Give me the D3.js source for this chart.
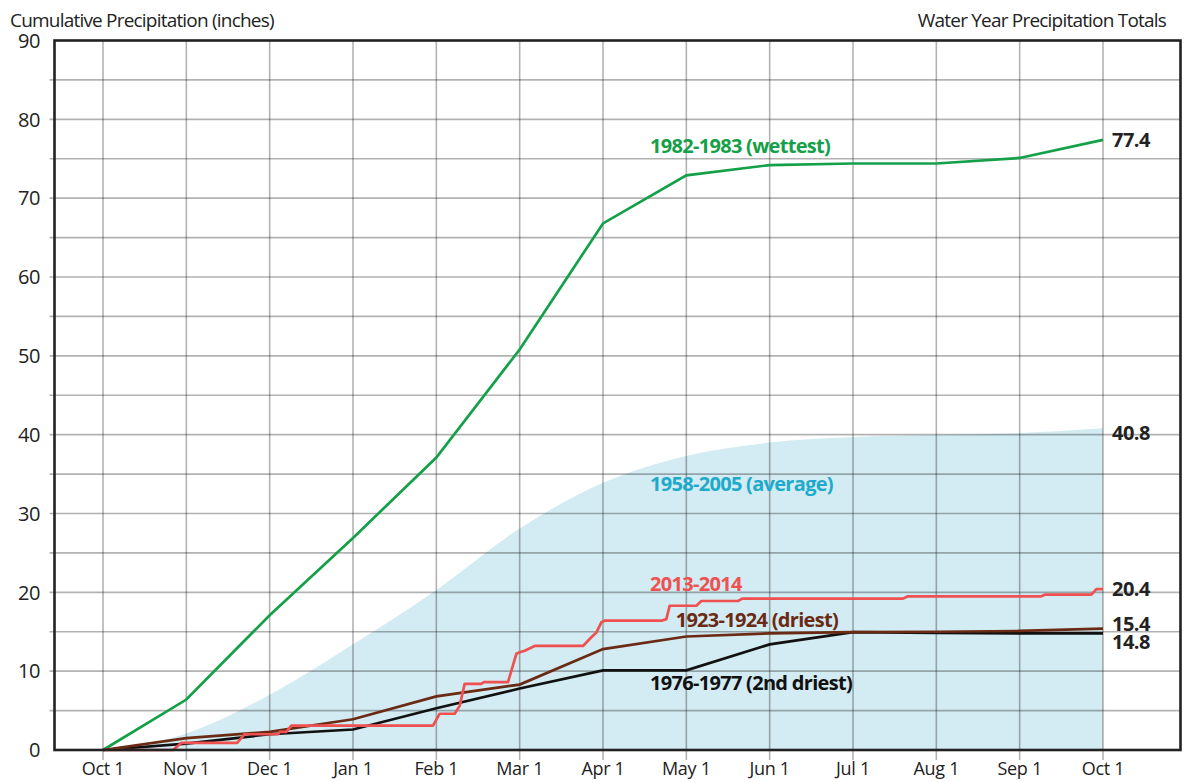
<!DOCTYPE html>
<html>
<head>
<meta charset="utf-8">
<script src="https://cdn.jsdelivr.net/npm/d3@7"></script>
<style>
  body { margin: 0; background: #fff; }
  svg text { font-family: "Open Sans", "Noto Sans", sans-serif; }
</style>
</head>
<body>
<div id="chart"></div>
<script>
// month positions: 0 = Oct 1 ... 12 = Oct 1 of following year
const monthLabels = ["Oct 1", "Nov 1", "Dec 1", "Jan 1", "Feb 1", "Mar 1", "Apr 1",
                     "May 1", "Jun 1", "Jul 1", "Aug 1", "Sep 1", "Oct 1"];
const yTicks = [0, 10, 20, 30, 40, 50, 60, 70, 80, 90];

// monthly cumulative totals (inches), one value per month label
const wettest1983 = [0, 6.4, 17.1, 26.9, 37.1, 50.8, 66.8, 72.9, 74.2, 74.4, 74.4, 75.1, 77.4];
const average1958to2005 = [0, 2.1, 7.0, 13.4, 20.3, 28.1, 33.9, 37.3, 39.0, 39.7, 40.0, 40.2, 40.8];
const driest1924 = [0, 1.5, 2.3, 3.9, 6.8, 8.3, 12.8, 14.4, 14.8, 14.95, 15.0, 15.1, 15.4];
const secondDriest1977 = [0, 0.8, 2.0, 2.6, 5.3, 7.8, 10.1, 10.1, 13.4, 14.95, 14.85, 14.8, 14.8];

// 2013-2014 daily-ish record as [month position, inches]
const wy2014 = [
  [0, 0], [0.84, 0], [0.94, 0.9], [1.61, 0.9], [1.70, 2.0], [2.10, 2.0], [2.12, 2.3],
  [2.20, 2.3], [2.26, 3.1], [3.96, 3.1], [4.04, 4.6], [4.22, 4.6], [4.28, 5.6],
  [4.34, 8.4], [4.54, 8.4], [4.57, 8.6], [4.86, 8.6], [4.96, 12.2], [5.00, 12.4],
  [5.06, 12.6], [5.18, 13.2], [5.76, 13.2], [5.86, 14.3], [5.92, 14.9], [5.98, 16.2],
  [6.02, 16.4], [6.70, 16.4], [6.76, 16.6], [6.80, 18.3], [7.12, 18.3], [7.18, 18.9],
  [7.62, 18.9], [7.67, 19.2], [9.60, 19.2], [9.66, 19.5], [11.26, 19.5], [11.30, 19.7],
  [11.86, 19.7], [11.92, 20.4], [12, 20.4]
];

const seriesNames = ["1982-1983 (wettest)", "1958-2005 (average)", "2013-2014",
                     "1923-1924 (driest)", "1976-1977 (2nd driest)"];
const endTotals = ["77.4", "40.8", "20.4", "15.4", "14.8"];

const width = 1185;
const height = 782;
const frame = { left: 54.5, right: 1180.5, top: 40.5, bottom: 750 };

const x = d3.scaleLinear().domain([0, 12]).range([103, 1103]);
const y = d3.scaleLinear().domain([0, 90]).range([frame.bottom, frame.top]);

const svg = d3.select("#chart")
  .append("svg")
  .attr("width", width)
  .attr("height", height);

// average as a filled area
const area = d3.area()
  .x((d, i) => x(i))
  .y0(y(0))
  .y1(d => y(d))
  .curve(d3.curveMonotoneX);

svg.append("path")
  .datum(average1958to2005)
  .attr("fill", "#d3ebf2")
  .attr("d", area);

// grid (drawn semi transparent so it shows darker over the fill)
const grid = svg.append("g")
  .attr("stroke", "rgba(0,0,0,0.3)")
  .attr("stroke-width", 1.6);

grid.selectAll(".hgrid")
  .data(d3.range(5, 90, 5))
  .enter()
  .append("line")
  .attr("x1", frame.left - 5)
  .attr("x2", frame.right)
  .attr("y1", d => y(d))
  .attr("y2", d => y(d));

grid.selectAll(".vgrid")
  .data(d3.range(0, 13))
  .enter()
  .append("line")
  .attr("x1", d => x(d))
  .attr("x2", d => x(d))
  .attr("y1", frame.top)
  .attr("y2", frame.bottom + 10);

// tick labels
svg.append("g")
  .selectAll("text")
  .data(yTicks)
  .enter()
  .append("text")
  .attr("x", 40)
  .attr("y", d => y(d))
  .attr("dy", "0.36em")
  .attr("text-anchor", "end")
  .attr("font-size", 20)
  .attr("letter-spacing", -0.4)
  .attr("fill", "#222")
  .text(d => d);

svg.append("g")
  .selectAll("text")
  .data(monthLabels)
  .enter()
  .append("text")
  .attr("x", (d, i) => x(i))
  .attr("y", 775)
  .attr("text-anchor", "middle")
  .attr("font-size", 18)
  .attr("letter-spacing", -0.3)
  .attr("fill", "#222")
  .text(d => d);

// lines
const line = d3.line()
  .x((d, i) => x(i))
  .y(d => y(d));

svg.append("path")
  .datum(wettest1983)
  .attr("fill", "none")
  .attr("stroke", "#14a048")
  .attr("stroke-width", 2.7)
  .attr("d", line);

svg.append("path")
  .datum(secondDriest1977)
  .attr("fill", "none")
  .attr("stroke", "#111")
  .attr("stroke-width", 2.7)
  .attr("d", line);

svg.append("path")
  .datum(driest1924)
  .attr("fill", "none")
  .attr("stroke", "#6a2a14")
  .attr("stroke-width", 2.7)
  .attr("d", line);

svg.append("path")
  .datum(wy2014)
  .attr("fill", "none")
  .attr("stroke", "#ef5050")
  .attr("stroke-width", 2.7)
  .attr("stroke-linejoin", "round")
  .attr("d", d3.line().x(d => x(d[0])).y(d => y(d[1])));

// frame
svg.append("rect")
  .attr("x", frame.left)
  .attr("y", frame.top)
  .attr("width", frame.right - frame.left)
  .attr("height", frame.bottom - frame.top)
  .attr("fill", "none")
  .attr("stroke", "#222")
  .attr("stroke-width", 2.6);

// series labels
const labelPos = [
  { x: 650, y: 153, anchor: "start", color: "#14a048" },
  { x: 650, y: 491, anchor: "start", color: "#1eaacb" },
  { x: 650, y: 591, anchor: "start", color: "#ef5050" },
  { x: 838, y: 627, anchor: "end", color: "#6a2a14" },
  { x: 650, y: 690, anchor: "start", color: "#111" }
];

svg.append("g")
  .selectAll("text")
  .data(seriesNames)
  .enter()
  .append("text")
  .attr("x", (d, i) => labelPos[i].x)
  .attr("y", (d, i) => labelPos[i].y)
  .attr("text-anchor", (d, i) => labelPos[i].anchor)
  .attr("font-size", 20)
  .attr("font-weight", "bold")
  .attr("letter-spacing", -0.7)
  .attr("fill", (d, i) => labelPos[i].color)
  .text(d => d);

// totals at the right edge
const endNudge = [0, 4, 0, -5, 8];
svg.append("g")
  .selectAll("text")
  .data(endTotals)
  .enter()
  .append("text")
  .attr("x", 1112)
  .attr("y", (d, i) => y(+d) + endNudge[i])
  .attr("dy", "0.36em")
  .attr("font-size", 20)
  .attr("font-weight", "bold")
  .attr("letter-spacing", -0.5)
  .attr("fill", "#222")
  .text(d => d);

// titles
svg.append("text")
  .attr("x", 10)
  .attr("y", 27)
  .attr("font-size", 19)
  .attr("letter-spacing", -0.8)
  .attr("fill", "#222")
  .text("Cumulative Precipitation (inches)");

svg.append("text")
  .attr("x", 1166)
  .attr("y", 27)
  .attr("text-anchor", "end")
  .attr("font-size", 19)
  .attr("letter-spacing", -0.8)
  .attr("fill", "#222")
  .text("Water Year Precipitation Totals");
</script>
</body>
</html>
